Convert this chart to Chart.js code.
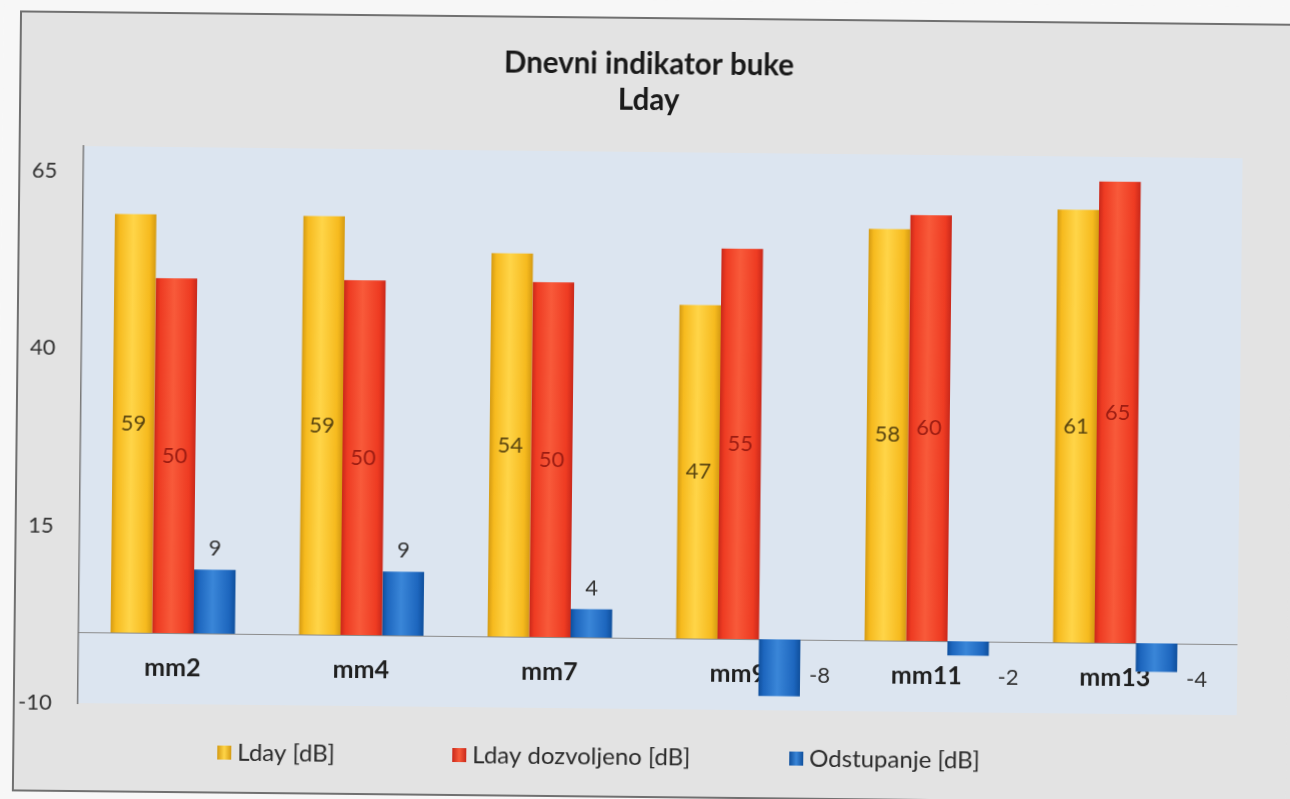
<!DOCTYPE html>
<html>
<head>
<meta charset="utf-8">
<title>Dnevni indikator buke</title>
<script src="https://cdn.jsdelivr.net/npm/chart.js@4.4.1/dist/chart.umd.min.js"></script>
<style>
    html, body { margin: 0; padding: 0; background: #f7f7f7; overflow: hidden; }
    #wrap {
        width: 1290px; height: 799px; position: relative;
        background:
            linear-gradient(#f7f7f7, #f7f7f7) 0 0 / 100% 22px no-repeat,
            linear-gradient(to right, #f7f7f7 1270px, #e3e3e3 1270px);
    }
    /* the source is a slightly skewed scan */
    #noiseChart { transform: rotate(0.6deg); transform-origin: 50% 50%; }
</style>
</head>
<body>
<div id="wrap"><canvas id="noiseChart" width="1290" height="799"></canvas></div>
<script>
// Data
const categories = ['mm2', 'mm4', 'mm7', 'mm9', 'mm11', 'mm13'];
const ldayValues = [59, 59, 54, 47, 58, 61];
const allowedValues = [50, 50, 50, 55, 60, 65];
const deviationValues = [9, 9, 4, -8, -2, -4];
const yTickValues = [-10, 15, 40, 65];
const seriesNames = ['Lday [dB]', 'Lday dozvoljeno [dB]', 'Odstupanje [dB]'];

const CAT_PCT = 0.66;

// edge / mid / highlight colours for the bevelled bars
const barShades = [
    ['#d49a12', '#f6ba1e', '#ffd548'],
    ['#c9281a', '#ee3b22', '#f85a3a'],
    ['#0f4f9c', '#1d66be', '#3a86d8']
];
const labelColors = ['#5a4510', '#9c1c12', '#333333'];

function barFill(ctx) {
    const shades = barShades[ctx.datasetIndex];
    const chart = ctx.chart;
    if (!chart.chartArea || ctx.type !== 'data') return shades[1];
    const x = chart.scales.x;
    const groupW = (x.width / categories.length) * CAT_PCT;
    const barW = groupW / 3;
    const left = x.getPixelForValue(ctx.dataIndex) - groupW / 2 + ctx.datasetIndex * barW;
    const g = chart.ctx.createLinearGradient(left, 0, left + barW, 0);
    g.addColorStop(0, shades[0]);
    g.addColorStop(0.12, shades[1]);
    g.addColorStop(0.45, shades[2]);
    g.addColorStop(0.85, shades[1]);
    g.addColorStop(1, shades[0]);
    return g;
}

// paper background, frame and plot area
const backdrop = {
    id: 'backdrop',
    beforeDraw(chart) {
        const c = chart.ctx;
        const a = chart.chartArea;
        c.save();
        c.fillStyle = '#f7f7f7';
        c.fillRect(0, 0, chart.width, chart.height);
        c.fillStyle = '#e3e3e3';
        c.fillRect(17, 18, chart.width, 779);
        c.strokeStyle = '#707070';
        c.lineWidth = 2;
        c.strokeRect(17, 18, chart.width + 10, 779);
        c.fillStyle = '#dce5f0';
        c.fillRect(a.left, a.top, a.right - a.left + 28, a.bottom - a.top);
        // zero line continues to the edge of the plot area
        const y0 = Math.round(chart.scales.y.getPixelForValue(0)) + 0.5;
        c.strokeStyle = '#8c8c8c';
        c.lineWidth = 1;
        c.beginPath();
        c.moveTo(a.right, y0);
        c.lineTo(a.right + 28, y0);
        c.stroke();
        c.restore();
    }
};

// value labels like the Excel data labels
const valueLabels = {
    id: 'valueLabels',
    afterDatasetsDraw(chart) {
        const c = chart.ctx;
        const y0 = chart.scales.y.getPixelForValue(0);
        c.save();
        c.font = '22px Lato';
        c.textBaseline = 'middle';
        chart.data.datasets.forEach((ds, di) => {
            chart.getDatasetMeta(di).data.forEach((bar, i) => {
                const v = ds.data[i];
                c.fillStyle = labelColors[di];
                if (di < 2) {
                    c.textAlign = 'center';
                    c.fillText(String(v), bar.x, (bar.y + bar.base) / 2);
                } else if (v >= 0) {
                    c.textAlign = 'center';
                    c.fillText(String(v), bar.x, bar.y - 21);
                } else {
                    c.textAlign = 'left';
                    c.fillText(String(v), bar.x + bar.width / 2 + 9, y0 + 36);
                }
            });
        });
        c.restore();
    }
};

// legend drawn the way Excel spaced it
const legendXs = [221, 456, 793];
const bottomLegend = {
    id: 'bottomLegend',
    afterDraw(chart) {
        const c = chart.ctx;
        const y = 757;
        c.save();
        c.font = '24px Lato';
        c.textBaseline = 'middle';
        c.textAlign = 'left';
        chart.data.datasets.forEach((ds, di) => {
            const x = legendXs[di];
            const shades = barShades[di];
            const g = c.createLinearGradient(x, 0, x + 14, 0);
            g.addColorStop(0, shades[0]);
            g.addColorStop(0.5, shades[2]);
            g.addColorStop(1, shades[0]);
            c.fillStyle = g;
            c.fillRect(x, y - 7, 14, 14);
            c.fillStyle = '#2b2b2b';
            c.fillText(ds.label, x + 20, y);
        });
        c.restore();
    }
};

const ctx = document.getElementById('noiseChart').getContext('2d');
const noiseChart = new Chart(ctx, {
    type: 'bar',
    data: {
        labels: categories,
        datasets: [
            { label: seriesNames[0], data: ldayValues, backgroundColor: barFill },
            { label: seriesNames[1], data: allowedValues, backgroundColor: barFill },
            { label: seriesNames[2], data: deviationValues, backgroundColor: barFill }
        ]
    },
    options: {
        responsive: false,
        animation: false,
        datasets: {
            bar: {
                categoryPercentage: CAT_PCT,
                barPercentage: 1.0,
                borderWidth: 0
            }
        },
        layout: {
            padding: { left: 19, right: 18, top: 0, bottom: 90 }
        },
        scales: {
            x: {
                position: { y: 0 },
                grid: { display: false, drawTicks: false },
                border: { display: true, color: '#8c8c8c', width: 1 },
                ticks: {
                    color: '#1f1f1f',
                    padding: 20,
                    font: { family: 'Lato', size: 25, weight: 'bold' }
                }
            },
            y: {
                min: -10,
                max: 68.5,
                afterBuildTicks: (scale) => {
                    scale.ticks = yTickValues.map(v => ({ value: v }));
                },
                afterFit: (scale) => { scale.width = 62; },
                grid: { display: false, drawTicks: false },
                border: { display: true, color: '#7a7a7a', width: 1.5 },
                ticks: {
                    color: '#333333',
                    padding: 26,
                    font: { family: 'Lato', size: 22 }
                }
            },
            // empty right-hand gutter so the plot sits where Excel put it
            gutter: {
                axis: 'y',
                type: 'linear',
                position: 'right',
                min: -10,
                max: 68.5,
                grid: { display: false, drawTicks: false },
                border: { display: false },
                ticks: { display: false },
                afterFit: (scale) => { scale.width = 60; }
            }
        },
        plugins: {
            legend: { display: false },
            tooltip: { enabled: false },
            title: {
                display: true,
                text: ['Dnevni indikator buke', 'Lday'],
                color: '#1a1a1a',
                font: { family: 'Lato', size: 29.5, weight: 'bold', lineHeight: 1.22 },
                padding: { top: 46, bottom: 34 }
            }
        }
    },
    plugins: [backdrop, valueLabels, bottomLegend]
});
</script>
</body>
</html>
